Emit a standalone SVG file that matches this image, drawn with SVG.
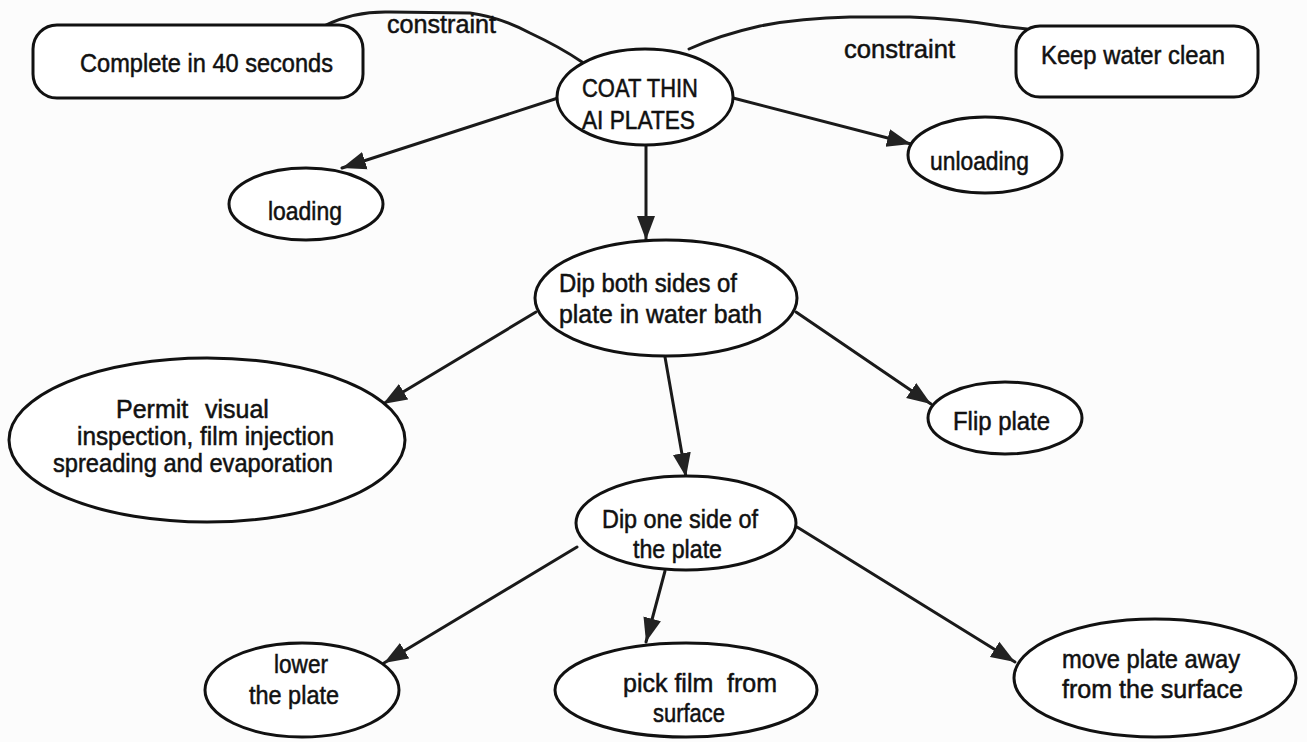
<svg xmlns="http://www.w3.org/2000/svg" width="1307" height="742" viewBox="0 0 1307 742">
  <defs>
    <style>
      .shape { fill: #ffffff; stroke: #111111; stroke-width: 3; }
      .link { fill: none; stroke: #1a1a1a; stroke-width: 3; stroke-linecap: round; }
      .label { font-family: "Liberation Sans", Arial, sans-serif; font-size: 25px; fill: #111111; stroke: #111111; stroke-width: 0.5; }
    </style>
    <marker id="arrow" markerUnits="userSpaceOnUse" markerWidth="26" markerHeight="20" refX="24" refY="10" orient="auto">
      <path d="M0,1 L24,10 L0,19 Z" fill="#222222"/>
    </marker>
  </defs>

  <rect width="1307" height="742" fill="#fcfcfc"/>

  <!-- connectors -->
  <g id="connectors">
    <path class="link" d="M326,25 Q355,11 390,12 L470,13 Q500,17 530,33 Q560,47 582,62"/>
    <path class="link" d="M689,49 Q720,35 760,26 Q800,18 850,17 L910,17 Q960,19 1000,26 L1027,29"/>
    <line class="link" x1="558" y1="98" x2="342" y2="168" marker-end="url(#arrow)"/>
    <line class="link" x1="733" y1="98" x2="911" y2="144" marker-end="url(#arrow)"/>
    <line class="link" x1="646" y1="145" x2="646" y2="240" marker-end="url(#arrow)"/>
    <line class="link" x1="536" y1="312" x2="383" y2="404" marker-end="url(#arrow)"/>
    <line class="link" x1="796" y1="312" x2="931" y2="404" marker-end="url(#arrow)"/>
    <line class="link" x1="665" y1="357" x2="686" y2="477" marker-end="url(#arrow)"/>
    <line class="link" x1="577" y1="547" x2="384" y2="663" marker-end="url(#arrow)"/>
    <line class="link" x1="665" y1="571" x2="646" y2="642" marker-end="url(#arrow)"/>
    <line class="link" x1="797" y1="527" x2="1015" y2="662" marker-end="url(#arrow)"/>
    <text class="label" x="387" y="33" textLength="109" lengthAdjust="spacingAndGlyphs">constraint</text>
    <text class="label" x="844" y="58" textLength="111" lengthAdjust="spacingAndGlyphs">constraint</text>
  </g>

  <g id="complete-40s">
    <rect class="shape" x="33" y="25" width="330" height="73" rx="24"/>
    <text class="label" x="80" y="72" textLength="253" lengthAdjust="spacingAndGlyphs">Complete in 40 seconds</text>
  </g>

  <g id="keep-water-clean">
    <rect class="shape" x="1016" y="26" width="242" height="71" rx="24"/>
    <text class="label" x="1041" y="64" textLength="184" lengthAdjust="spacingAndGlyphs">Keep water clean</text>
  </g>

  <g id="coat-plates">
    <ellipse class="shape" cx="645" cy="97" rx="88" ry="48"/>
    <text class="label" x="582" y="97" font-size="26" textLength="116" lengthAdjust="spacingAndGlyphs">COAT THIN</text>
    <text class="label" x="582" y="129" font-size="26" textLength="113" lengthAdjust="spacingAndGlyphs">AI PLATES</text>
  </g>

  <g id="loading">
    <ellipse class="shape" cx="306" cy="204" rx="77" ry="36"/>
    <text class="label" x="268" y="220" textLength="74" lengthAdjust="spacingAndGlyphs">loading</text>
  </g>

  <g id="unloading">
    <ellipse class="shape" cx="985" cy="155" rx="77" ry="38"/>
    <text class="label" x="930" y="170" textLength="99" lengthAdjust="spacingAndGlyphs">unloading</text>
  </g>

  <g id="dip-both">
    <ellipse class="shape" cx="666" cy="298" rx="131" ry="58"/>
    <text class="label" x="559" y="292" textLength="178" lengthAdjust="spacingAndGlyphs">Dip both sides of</text>
    <text class="label" x="559" y="323" textLength="203" lengthAdjust="spacingAndGlyphs">plate in water bath</text>
  </g>

  <g id="permit">
    <ellipse class="shape" cx="207" cy="440" rx="198" ry="82"/>
    <text class="label" x="116" y="418">Permit <tspan x="205">visual</tspan></text>
    <text class="label" x="77" y="445" textLength="257" lengthAdjust="spacingAndGlyphs">inspection, film injection</text>
    <text class="label" x="53" y="472" textLength="280" lengthAdjust="spacingAndGlyphs">spreading and evaporation</text>
  </g>

  <g id="flip-plate">
    <ellipse class="shape" cx="1005" cy="418" rx="77" ry="36"/>
    <text class="label" x="953" y="430" textLength="97" lengthAdjust="spacingAndGlyphs">Flip plate</text>
  </g>

  <g id="dip-one">
    <ellipse class="shape" cx="686" cy="523" rx="110" ry="47"/>
    <text class="label" x="602" y="528" textLength="156" lengthAdjust="spacingAndGlyphs">Dip one side of</text>
    <text class="label" x="633" y="558" textLength="89" lengthAdjust="spacingAndGlyphs">the plate</text>
  </g>

  <g id="lower-plate">
    <ellipse class="shape" cx="302" cy="690" rx="97" ry="47"/>
    <text class="label" x="274" y="673" textLength="54" lengthAdjust="spacingAndGlyphs">lower</text>
    <text class="label" x="249" y="704" textLength="90" lengthAdjust="spacingAndGlyphs">the plate</text>
  </g>

  <g id="pick-film">
    <ellipse class="shape" cx="686" cy="690" rx="131" ry="47"/>
    <text class="label" x="623" y="692">pick film <tspan x="727">from</tspan></text>
    <text class="label" x="653" y="722" textLength="72" lengthAdjust="spacingAndGlyphs">surface</text>
  </g>

  <g id="move-plate">
    <ellipse class="shape" cx="1155" cy="678" rx="141" ry="59"/>
    <text class="label" x="1062" y="668" textLength="178" lengthAdjust="spacingAndGlyphs">move plate away</text>
    <text class="label" x="1062" y="698" textLength="181" lengthAdjust="spacingAndGlyphs">from the surface</text>
  </g>
</svg>
